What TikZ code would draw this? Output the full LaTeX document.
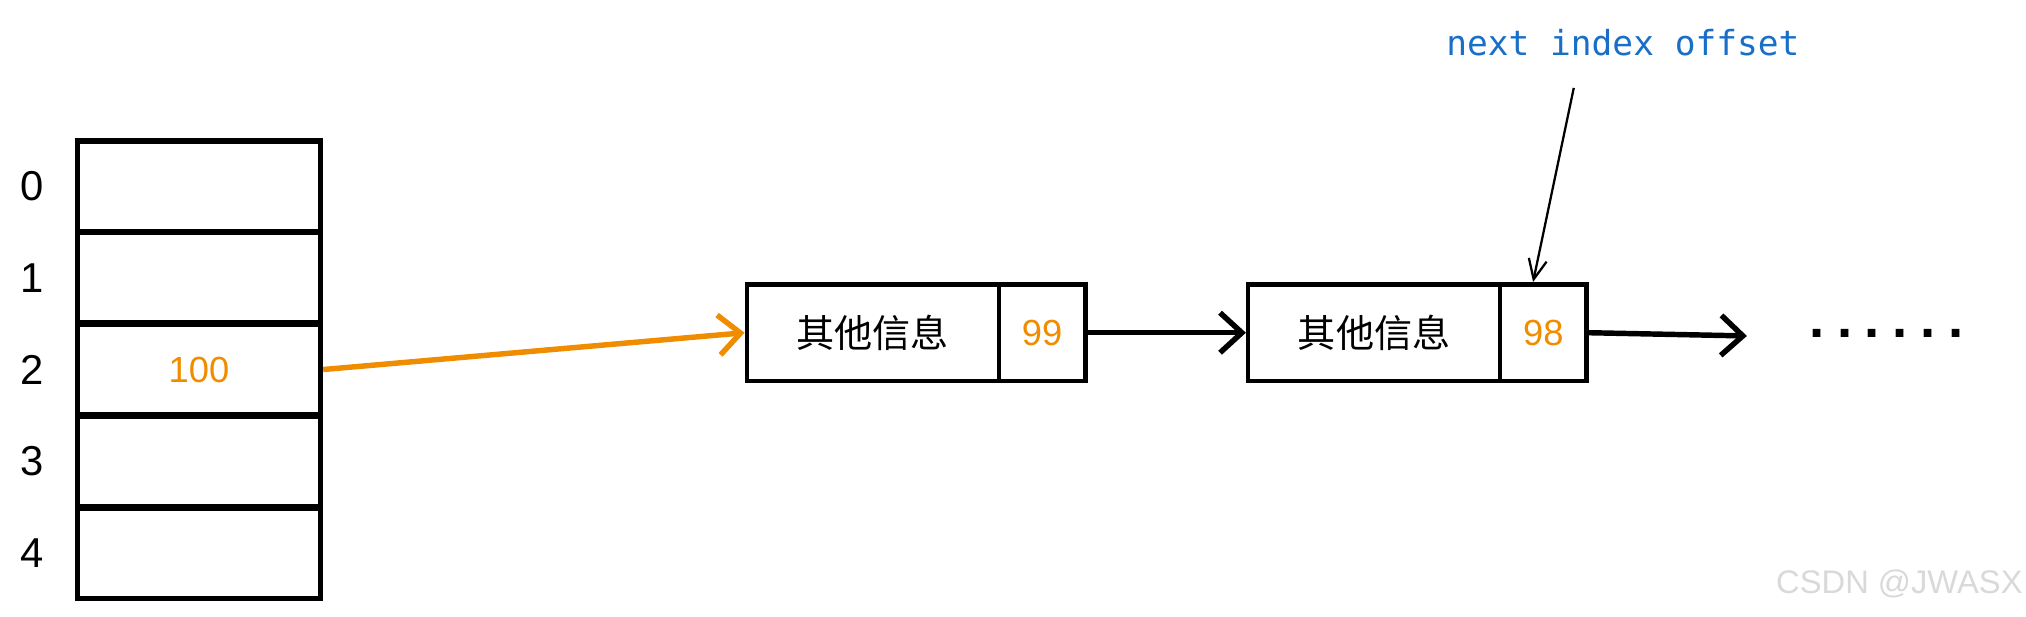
\documentclass[tikz,border=0pt]{standalone}
\usepackage{fontspec}
\setmainfont{Liberation Sans}
\newfontfamily\cjk{Noto Sans CJK SC}
\newfontfamily\monofont{DejaVu Sans Mono}
\usetikzlibrary{positioning,arrows.meta}
\definecolor{numorange}{RGB}{240,140,0}
\definecolor{noteblue}{RGB}{25,110,200}
\begin{document}
\begin{tikzpicture}[x=0.05cm,y=-0.05cm]
	\tikzset{cell/.style={draw=black, line width=6pt, minimum height=70*0.05cm, minimum width=188*0.05cm, inner sep=0pt},
		info/.style={draw=black, line width=5pt, minimum height=75*0.05cm, minimum width=195*0.05cm, inner sep=0pt, font=\cjk\fontsize{42}{42}\selectfont},
		ptr/.style={draw=black, line width=5pt, minimum height=75*0.05cm, minimum width=67*0.05cm, inner sep=0pt, text=numorange, font=\fontsize{40}{40}\selectfont},
		idx/.style={font=\fontsize{46}{46}\selectfont},
		link/.style={line width=6pt, -{Straight Barb[length=24pt, width=44pt, line width=6pt]}}}
	\useasboundingbox (0,0) rectangle (1568,477);

	\foreach \i in {0,...,4}
	{
		\node[cell] (a-\i) at (154, 144 + 71*\i) {};
		\node[idx] (l-\i) at (25, 144 + 71*\i) {\i};
	}
	\node[text=numorange, font=\fontsize{40}{40}\selectfont] (v) at (a-2) {100};

	\node[info] (n1) at (675.5, 257.5) {其他信息};
	\node[ptr, right=-5pt of n1] (p1) {99};
	\node[info] (n2) at (1063.5, 257.5) {其他信息};
	\node[ptr, right=-5pt of n2] (p2) {98};

	\node[font=\bfseries\fontsize{60}{60}\selectfont, inner sep=0pt] (dots) at (1460, 258) {.\hspace{14pt}.\hspace{14pt}.\hspace{14pt}.\hspace{14pt}.\hspace{14pt}.};
	\node[text=noteblue, font=\monofont\fontsize{38}{38}\selectfont] (note) at (1256, 33) {next index offset};
	\node[text=black!15, font=\fontsize{36}{36}\selectfont] (mark) at (1470, 452) {CSDN @JWASX};
	\coordinate (t) at (1218, 68);
	\coordinate (e) at (1352, 260);

	\draw[link, numorange] (a-2.east) -- (n1.west);
	\draw[link] (p1.east) -- (n2.west);
	\draw[link] (p2.east) -- (e);
	\draw[line width=2.5pt, -{Straight Barb[length=22pt, width=20pt, line width=2.5pt]}] (t) -- ([xshift=-8*0.05cm]p2.north);
\end{tikzpicture}
\end{document}
